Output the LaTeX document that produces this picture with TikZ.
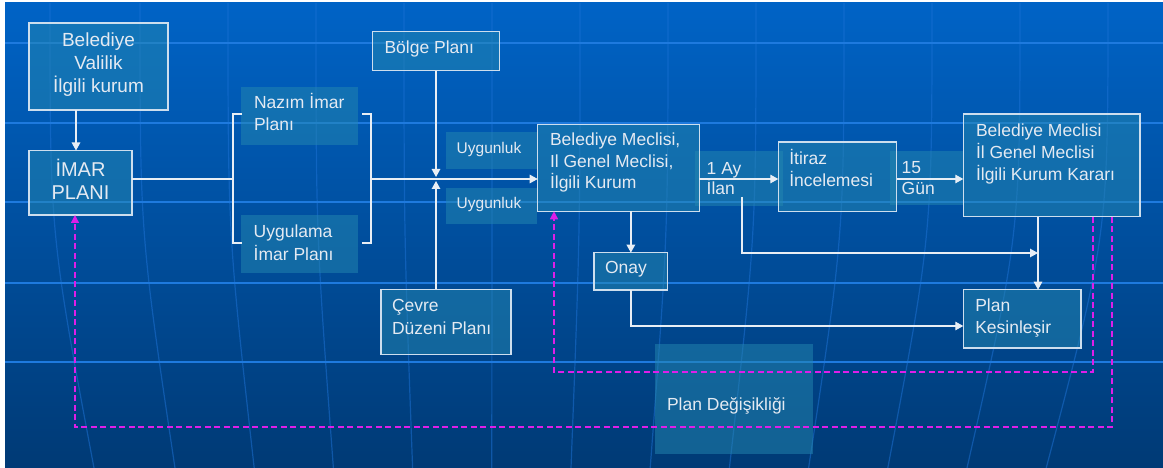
\documentclass[tikz,border=0pt]{standalone}
\usepackage{fontspec}
\setmainfont{Liberation Sans}
\usetikzlibrary{arrows.meta,calc}
\definecolor{bgtop}{RGB}{0,99,198}
\definecolor{bgmid}{RGB}{0,80,165}
\definecolor{bgbot}{RGB}{0,58,117}
\definecolor{gridc}{RGB}{30,122,222}
\definecolor{merc}{RGB}{30,115,215}
\definecolor{boxfill}{RGB}{37,136,176}
\definecolor{boxline}{RGB}{205,222,238}
\definecolor{wline}{RGB}{232,238,245}
\definecolor{txt}{RGB}{228,234,242}
\definecolor{mag}{RGB}{222,30,232}
% left aligned text block: width, height, left pad, font size, skip, first baseline, text
\newcommand{\tbl}[7]{\parbox[c][#2pt][t]{#1pt}{\fontsize{#4pt}{#5pt}\selectfont\raggedright\leftskip=#3pt\relax\rule{0pt}{#6pt}#7}}
% centred text block: width, height, font size, skip, first baseline, text
\newcommand{\tbc}[6]{\parbox[c][#2pt][t]{#1pt}{\fontsize{#3pt}{#4pt}\selectfont\centering\rule{0pt}{#5pt}#6}}
\tikzset{
  box/.style={draw=boxline, line width=1.4pt, fill=boxfill, fill opacity=0.5, text opacity=1, draw opacity=1,
    inner sep=0pt, outer sep=0pt, anchor=north west, text=txt},
  lab/.style={fill=boxfill, fill opacity=0.5, text opacity=1, inner sep=0pt, outer sep=0pt, anchor=north west, text=txt},
  wl/.style={draw=wline, line width=1.3pt},
  arr/.style={wl, -{Triangle[length=8pt,width=8.5pt]}},
  dl/.style={draw=mag, line width=1.4pt, dash pattern=on 6pt off 3.5pt},
  darr/.style={dl, -{Triangle[length=8pt,width=8pt]}},
}
\begin{document}
\begin{tikzpicture}[x=1pt,y=-1pt]
\useasboundingbox (0,0) rectangle (1163,468);
\fill[white] (0,0) rectangle (1163,468);
\shade[top color=bgtop, middle color=bgmid, bottom color=bgbot] (5,3) rectangle (1163,468);
% background meridians
\begin{scope}
\clip (5,3) rectangle (1163,468);
\foreach \c in {50,140,228,316,404,492,580,668,756,844,932,1020,1108}{
  \pgfmathsetmacro{\e}{\c+(490-\c)*0.1}
  \draw[merc, line width=1.2pt, opacity=0.5] (\c,3) .. controls (\c,234) .. (\e,468);
}
\foreach \yy in {43,123,202,283,362}{
  \draw[gridc, line width=2pt] (5,\yy) -- (1163,\yy);
}
\end{scope}
% label fills
\node[lab] (nazim) at (241,87) {\tbl{117}{58}{13}{17.5}{21.7}{22}{Nazım İmar\\Planı}};
\node[lab] (uyg) at (241,215) {\tbl{117}{57.5}{12.7}{17.5}{22.3}{22.7}{Uygulama\\İmar Planı}};
\node[lab] (ung1) at (446,132.3) {\tbl{90.7}{37}{10.7}{15.5}{19}{21.7}{Uygunluk}};
\node[lab] (ung2) at (446,188.3) {\tbl{90.7}{35.7}{10.7}{15.5}{19}{20.7}{Uygunluk}};
\node[lab] (ilan) at (695,150.7) {\tbl{88}{55}{11.7}{17.5}{20}{24.3}{1 Ay\\İlan}};
\node[lab] (gun) at (890,150.7) {\tbl{73.3}{54.5}{11.7}{17.5}{21.7}{22.6}{15\\Gün}};
\node[lab] (pdeg) at (655.4,344) {\tbl{157.6}{110.3}{11.6}{17.5}{21.7}{66}{Plan Değişikliği}};
% boxes
\node[box] (bel) at (29,23) {\tbc{139}{87}{19}{23}{23.7}{Belediye\\Valilik\\İlgili kurum}};
\node[box] (imar) at (29,150.5) {\tbc{103}{64.5}{20}{23}{25.8}{İMAR\\PLANI}};
\node[box] (bolge) at (372.5,31.7) {\tbl{127}{39}{12}{17.5}{21.7}{22.3}{Bölge Planı}};
\node[box] (cevre) at (381,289.3) {\tbl{130}{65}{11}{17.5}{22.3}{22.4}{Çevre\\Düzeni Planı}};
\node[box] (belm) at (537.7,124.3) {\tbl{161.6}{87}{12.3}{17.5}{21.5}{21.7}{Belediye Meclisi,\\Il Genel Meclisi,\\İlgili Kurum}};
\node[box] (itiraz) at (778.3,142) {\tbl{118.4}{69.7}{11}{17.5}{21.7}{23}{İtiraz\\İncelemesi}};
\node[box] (karar) at (963.3,114) {\tbl{176.7}{102.7}{12.7}{17.5}{21.7}{22.7}{Belediye Meclisi\\İl Genel Meclisi\\İlgili Kurum Kararı}};
\node[box] (onay) at (594,252.7) {\tbl{73.7}{37.3}{11}{17.5}{21.7}{21.3}{Onay}};
\node[box] (plank) at (963.3,289.7) {\tbl{117.7}{58.3}{12}{17.5}{21.6}{22}{Plan\\Kesinleşir}};
% helper coordinates
\coordinate (midl) at (0,179);
\coordinate (ax) at (76,0);
\coordinate (brL) at (233,179);
\coordinate (brR) at (371,179);
\coordinate (ky) at (0,326);
\coordinate (kx) at (1038,0);
\coordinate (ils) at (742,197);
\coordinate (jn) at (1038,253);
\coordinate (m1) at (1093,0);
\coordinate (m2) at (0,372);
\coordinate (m3) at (554,0);
\coordinate (m4) at (1112,0);
\coordinate (m5) at (0,427);
\coordinate (m6) at (75,0);
% brackets
\draw[wl] (242,114) -- (233,114) -- (233,243) -- (242,243);
\draw[wl] (362,114) -- (371,114) -- (371,243) -- (362,243);
% connectors
\draw[arr] (bel.south -| ax) -- (imar.north -| ax);
\draw[wl] (imar.east |- midl) -- (brL);
\draw[arr] (brR) -- (belm.west |- midl);
\draw[arr] (bolge.south) -- ($(bolge.south |- midl)+(0,-2)$);
\draw[arr] (cevre.north -| bolge.south) -- ($(bolge.south |- midl)+(0,2)$);
\draw[arr] (belm.east |- midl) -- (itiraz.west |- midl);
\draw[arr] (itiraz.east |- midl) -- (karar.west |- midl);
\draw[arr] (belm.south -| onay.north) -- (onay.north);
\draw[arr] (onay.south) |- (plank.west |- ky);
\draw[arr] (karar.south -| kx) -- (plank.north -| kx);
\draw[arr] (ils) |- (jn);
% plan change loops
\draw[darr] (karar.south -| m4) |- (m6 |- m5) -- (imar.south -| m6);
\draw[darr] (karar.south -| m1) |- (m3 |- m2) -- (belm.south -| m3);
\end{tikzpicture}
\end{document}
